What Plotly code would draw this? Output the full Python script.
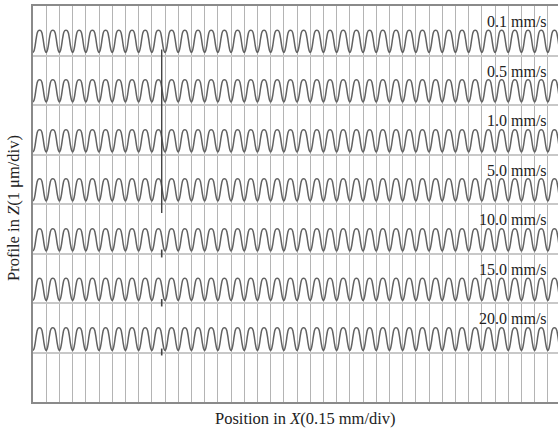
import plotly.graph_objects as go

# ---- data ----
speeds = ["0.1 mm/s", "0.5 mm/s", "1.0 mm/s", "5.0 mm/s", "10.0 mm/s", "15.0 mm/s", "20.0 mm/s"]
# height of each profile's peaks / troughs above its own baseline (in divisions)
peak_levels = [0.51, 0.51, 0.50, 0.51, 0.50, 0.50, 0.50]
trough_levels = [0.06, 0.06, 0.05, 0.06, 0.05, 0.05, 0.04]
# one period of the measured tooth profile (phase within a division, relative height)
tooth_phase = [0.0, 0.08, 0.16, 0.24, 0.32, 0.40, 0.50, 0.60, 0.68, 0.76, 0.84, 0.92]
tooth_shape = [0.0, 0.08, 0.30, 0.62, 0.88, 0.98, 1.0, 0.98, 0.88, 0.62, 0.30, 0.08]
n_periods = 40
# dark artefact line near x = 9.75 div
artefact_x = [9.75, 9.75]
artefact_y = [7.12, 3.82]
# short dips at the same position in the lower profiles
dip_rows = [4, 5, 6]
dip_depth = [-0.08, -0.07, -0.06]

n_rows = len(speeds)
top = n_rows + 1

fig = go.Figure()
for i, name in enumerate(speeds):
    base = n_rows - i
    xs, ys = [], []
    for p in range(n_periods):
        for ph, sh in zip(tooth_phase, tooth_shape):
            xs.append(p + ph)
            ys.append(base + trough_levels[i] + (peak_levels[i] - trough_levels[i]) * sh)
    xs.append(n_periods)
    ys.append(base + trough_levels[i])
    fig.add_trace(go.Scatter(x=xs, y=ys, mode="lines", line=dict(color="#626262", width=1.5, shape="spline", smoothing=0.6),
                             hoverinfo="skip", showlegend=False))
    fig.add_annotation(x=39.05, y=base + 0.68, xref="x", yref="y", text=name, showarrow=False,
                       xanchor="right", yanchor="middle",
                       font=dict(family="Liberation Serif", size=16, color="#222"))

fig.add_trace(go.Scatter(x=artefact_x, y=artefact_y, mode="lines", line=dict(color="#444", width=1.4),
                         hoverinfo="skip", showlegend=False))
for r, d in zip(dip_rows, dip_depth):
    b = n_rows - r
    fig.add_trace(go.Scatter(x=[9.75, 9.75], y=[b + 0.08, b + d], mode="lines",
                             line=dict(color="#444", width=1.6), hoverinfo="skip", showlegend=False))

fig.update_layout(
    width=558, height=432,
    margin=dict(l=33, r=0, t=6, b=30),
    paper_bgcolor="white", plot_bgcolor="white",
    xaxis=dict(range=[0, 39.77], dtick=1, tick0=0, showticklabels=False, ticks="",
               showgrid=True, gridcolor="#b4b4b4", gridwidth=1, zeroline=False,
               showline=True, linecolor="#8a8a8a", linewidth=1.5, mirror=True),
    yaxis=dict(range=[0, top], dtick=1, tick0=0, showticklabels=False, ticks="",
               showgrid=True, gridcolor="#c8c8c8", gridwidth=2, zeroline=False,
               showline=True, linecolor="#8a8a8a", linewidth=1.5),
    showlegend=False,
)

fig.add_annotation(x=(305 - 33) / 525, y=-17 / 396, xref="paper", yref="paper",
                   text="Position in <i>X</i>(0.15 mm/div)", showarrow=False, yanchor="middle",
                   font=dict(family="Liberation Serif", size=16.5, color="#222"))
fig.add_annotation(x=-19 / 525, y=0.49, xref="paper", yref="paper",
                   text="Profile in <i>Z</i>(1 μm/div)", showarrow=False, textangle=-90,
                   xanchor="center", yanchor="middle",
                   font=dict(family="Liberation Serif", size=16.5, color="#222"))

fig.write_html("out.html")
